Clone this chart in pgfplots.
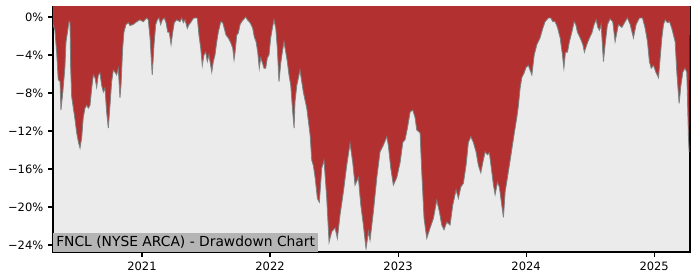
\documentclass[border=0pt]{standalone}
\usepackage{pgfplots}
\pgfplotsset{compat=1.18}
\usepackage{pgfplotstable}
\usepackage{fontspec}
\setmainfont{DejaVu Sans}
\definecolor{ddred}{RGB}{178,48,48}
\definecolor{ddbg}{RGB}{235,235,235}
\definecolor{ddbox}{RGB}{180,180,180}
\definecolor{ddline}{RGB}{128,128,128}
\pgfplotstableread{
year dd
2020.305 -0.8
2020.320 -1.4
2020.334 -3.8
2020.346 -6.6
2020.360 -6.8
2020.367 -9.8
2020.381 -8.0
2020.398 -5.3
2020.406 -2.7
2020.420 -1.4
2020.430 -0.5
2020.438 -0.5
2020.443 -5.3
2020.451 -8.4
2020.463 -9.5
2020.477 -10.8
2020.490 -12.2
2020.504 -13.2
2020.516 -13.8
2020.529 -12.7
2020.541 -10.6
2020.555 -9.6
2020.568 -9.3
2020.581 -9.6
2020.594 -9.3
2020.607 -7.5
2020.620 -6.1
2020.633 -6.4
2020.646 -7.4
2020.659 -6.1
2020.672 -5.9
2020.685 -7.2
2020.698 -7.9
2020.711 -7.5
2020.724 -10.0
2020.737 -11.7
2020.750 -9.3
2020.763 -6.8
2020.776 -5.6
2020.789 -5.8
2020.802 -6.1
2020.815 -5.4
2020.828 -8.5
2020.836 -7.2
2020.849 -3.3
2020.859 -1.6
2020.875 -0.8
2020.893 -0.6
2020.906 -0.9
2020.930 -0.8
2020.959 -0.5
2020.984 -0.3
2021.010 -0.5
2021.037 -0.1
2021.049 -0.3
2021.063 -2.2
2021.080 -6.1
2021.094 -2.9
2021.107 -0.8
2021.120 -0.3
2021.133 -0.1
2021.146 -0.8
2021.159 -0.3
2021.174 -0.1
2021.188 -0.6
2021.201 -1.6
2021.213 -1.6
2021.227 -2.9
2021.240 -1.6
2021.252 -0.6
2021.271 -0.3
2021.297 -0.5
2021.310 -0.1
2021.323 -0.6
2021.336 -0.3
2021.354 -1.2
2021.367 -0.8
2021.380 -0.6
2021.393 -0.3
2021.406 -0.1
2021.432 -0.1
2021.445 -1.9
2021.459 -3.3
2021.471 -5.1
2021.484 -4.0
2021.498 -3.7
2021.510 -4.7
2021.523 -4.0
2021.545 -5.8
2021.557 -4.7
2021.570 -4.0
2021.584 -2.6
2021.596 -1.6
2021.615 -0.5
2021.630 -0.6
2021.643 -1.2
2021.656 -1.9
2021.674 -2.2
2021.693 -2.7
2021.709 -3.3
2021.719 -4.5
2021.727 -3.7
2021.740 -1.9
2021.752 -1.7
2021.766 -0.8
2021.779 -0.5
2021.791 -0.3
2021.810 0.0
2021.823 -0.3
2021.838 -0.5
2021.852 -0.8
2021.865 -1.2
2021.877 -2.1
2021.891 -2.6
2021.904 -3.7
2021.916 -5.4
2021.927 -4.3
2021.940 -4.8
2021.953 -5.4
2021.966 -5.4
2021.979 -4.3
2021.992 -4.0
2022.005 -2.2
2022.018 -1.2
2022.031 -0.3
2022.045 -1.2
2022.057 -3.3
2022.070 -6.8
2022.084 -4.8
2022.096 -3.7
2022.109 -2.6
2022.123 -3.7
2022.135 -4.7
2022.148 -6.1
2022.162 -7.2
2022.176 -9.8
2022.188 -11.7
2022.195 -8.9
2022.209 -7.2
2022.234 -5.6
2022.260 -7.9
2022.287 -9.6
2022.313 -12.4
2022.326 -15.1
2022.338 -15.6
2022.352 -16.9
2022.370 -19.1
2022.385 -19.5
2022.404 -15.9
2022.422 -15.1
2022.443 -19.1
2022.461 -23.7
2022.482 -22.6
2022.508 -22.2
2022.526 -23.3
2022.547 -20.8
2022.573 -18.4
2022.599 -15.6
2022.625 -13.3
2022.646 -15.3
2022.664 -17.7
2022.690 -16.9
2022.709 -19.8
2022.729 -21.9
2022.750 -24.4
2022.768 -22.6
2022.781 -23.5
2022.807 -20.5
2022.834 -16.9
2022.859 -14.2
2022.885 -13.5
2022.912 -12.6
2022.924 -13.5
2022.943 -15.9
2022.963 -17.7
2022.990 -16.9
2023.016 -15.3
2023.037 -13.2
2023.055 -12.9
2023.073 -11.7
2023.094 -10.0
2023.115 -9.8
2023.133 -10.6
2023.146 -11.9
2023.172 -12.2
2023.185 -16.3
2023.203 -21.2
2023.224 -23.3
2023.250 -22.2
2023.276 -21.2
2023.302 -19.3
2023.323 -20.5
2023.341 -21.9
2023.359 -22.4
2023.380 -21.6
2023.406 -21.9
2023.427 -19.8
2023.453 -18.2
2023.471 -19.1
2023.490 -17.9
2023.510 -17.5
2023.531 -15.6
2023.549 -13.2
2023.568 -12.6
2023.588 -13.2
2023.609 -14.2
2023.627 -15.6
2023.646 -16.4
2023.662 -15.3
2023.680 -14.2
2023.698 -14.5
2023.713 -14.3
2023.732 -16.3
2023.745 -17.7
2023.758 -18.7
2023.776 -17.4
2023.791 -17.9
2023.810 -19.8
2023.823 -21.1
2023.836 -18.4
2023.854 -16.9
2023.875 -15.1
2023.893 -13.5
2023.909 -12.1
2023.927 -10.6
2023.940 -9.3
2023.953 -7.5
2023.966 -6.4
2023.984 -5.9
2024.000 -5.3
2024.018 -5.1
2024.031 -5.6
2024.045 -6.1
2024.063 -4.0
2024.084 -2.9
2024.109 -2.2
2024.130 -1.2
2024.148 -0.5
2024.174 -0.1
2024.193 -0.1
2024.209 -0.5
2024.227 -0.5
2024.245 -1.1
2024.266 -2.2
2024.284 -4.0
2024.295 -5.4
2024.307 -3.7
2024.323 -3.7
2024.338 -2.6
2024.357 -1.6
2024.375 -0.5
2024.388 -0.8
2024.401 -1.6
2024.422 -2.2
2024.443 -2.9
2024.455 -3.7
2024.474 -2.9
2024.495 -2.2
2024.513 -1.7
2024.531 -0.8
2024.547 -0.3
2024.560 -1.1
2024.573 -1.4
2024.586 -0.8
2024.604 -4.7
2024.617 -2.9
2024.635 -0.8
2024.656 -0.2
2024.677 -0.5
2024.695 -2.6
2024.709 -1.6
2024.721 -0.8
2024.748 -1.1
2024.773 -0.5
2024.791 -0.1
2024.813 -0.8
2024.838 -2.2
2024.859 -0.8
2024.885 -0.1
2024.909 -0.1
2024.930 -1.2
2024.948 -2.6
2024.963 -4.7
2024.977 -5.4
2024.995 -5.1
2025.013 -5.8
2025.034 -6.4
2025.047 -4.3
2025.060 -2.2
2025.073 -0.8
2025.086 -0.3
2025.104 -0.6
2025.120 -0.5
2025.138 -1.2
2025.164 -2.6
2025.177 -5.8
2025.195 -9.1
2025.209 -7.2
2025.224 -5.8
2025.240 -5.4
2025.255 -5.8
2025.268 -12.7
2025.273 -14.2
}\ddata
\begin{document}
\begin{tikzpicture}
\path[use as bounding box] (0,0) rectangle (7in,2.8in);
\begin{axis}[
  at={(0.53in,0.28in)}, anchor=south west,
  width=6.37in, height=2.45in, scale only axis,
  xmin=2020.305, xmax=2025.28, ymin=-24.74, ymax=1.05,
  axis background/.style={fill=ddbg},
  xtick={2021,2022,2023,2024,2025},
  xticklabels={2021,2022,2023,2024,2025},
  ytick={-24,-20,-16,-12,-8,-4,0},
  yticklabels={−24\%,−20\%,−16\%,−12\%,−8\%,−4\%,0\%},
  tick align=outside, tick pos=left,
  major tick length=3.5bp,
  tick style={black, line width=0.8bp},
  axis line style={line width=0.8bp},
  ticklabel style={font=\fontsize{8.3}{9}\selectfont},
  clip=true,
]
\addplot[fill=ddred, draw=none] table[x=year,y=dd] {\ddata} -- (axis cs:2025.28,3) -- (axis cs:2020.305,3) -- cycle;
\addplot[draw=ddline, line width=0.6bp] table[x=year,y=dd] {\ddata};
\node[anchor=south west, fill=ddbox, inner xsep=0.03in, inner ysep=0pt,
      minimum height=0.19in, font=\fontsize{10}{12}\selectfont, text=black]
  at (rel axis cs:0,0) {FNCL (NYSE ARCA) - Drawdown Chart};
\end{axis}
\end{tikzpicture}
\end{document}
